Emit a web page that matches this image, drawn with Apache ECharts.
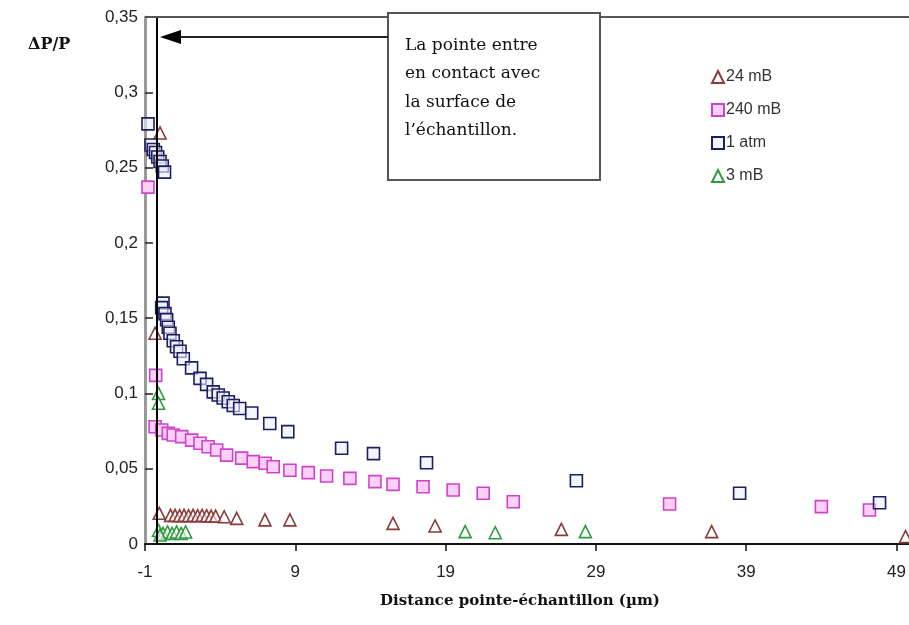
<!DOCTYPE html>
<html>
<head>
<meta charset="utf-8">
<script src="https://cdn.jsdelivr.net/npm/echarts@6/dist/echarts.min.js"></script>
<style>html,body{margin:0;padding:0;background:#fff;}#c{width:909px;height:625px;}</style>
</head>
<body>
<div id="c"></div>
<script>
// ---- data ----
const xTicks = [-1, 9, 19, 29, 39, 49];
const contactX = -0.2;

const mb24 = [
  [0.0,0.273],[-0.33,0.140],[-0.05,0.0204],
  [0.7,0.019],[1.0,0.019],[1.3,0.0188],[1.6,0.019],[1.9,0.0188],[2.2,0.019],
  [2.5,0.0188],[2.8,0.019],[3.1,0.0188],[3.4,0.0185],[3.7,0.0185],[4.27,0.0181],
  [5.1,0.017],[6.98,0.016],[8.64,0.016],[15.5,0.0137],[18.3,0.012],
  [26.7,0.0097],[36.7,0.0082],[49.6,0.0049]
];
const mb240 = [
  [-0.8,0.237],[-0.29,0.112],[-0.33,0.0779],[0.11,0.0757],[0.55,0.0735],
  [0.88,0.0724],[1.44,0.0713],[2.1,0.069],[2.66,0.0669],[3.2,0.0646],
  [3.77,0.0624],[4.43,0.059],[5.43,0.057],[6.2,0.0547],[7.0,0.0536],
  [7.53,0.0513],[8.64,0.049],[9.86,0.0474],[11.08,0.0452],[12.63,0.0436],
  [14.3,0.0414],[15.5,0.0396],[17.5,0.038],[19.5,0.0359],[21.5,0.0337],
  [23.5,0.0281],[33.9,0.0266],[44.0,0.0248],[47.2,0.0226]
];
const atm1 = [
  [-0.8,0.279],[-0.6,0.265],[-0.45,0.262],[-0.3,0.26],[-0.15,0.257],
  [0.0,0.254],[0.15,0.251],[0.3,0.247],
  [0.2,0.160],[0.11,0.157],[0.33,0.153],[0.44,0.149],[0.55,0.144],[0.66,0.140],
  [0.88,0.135],[1.1,0.131],[1.33,0.128],[1.55,0.123],[2.1,0.117],[2.66,0.110],
  [3.1,0.106],[3.54,0.101],[3.87,0.099],[4.2,0.097],[4.54,0.0945],[4.87,0.092],
  [5.3,0.090],[6.1,0.087],[7.3,0.080],[8.5,0.0746],[12.08,0.0636],[14.2,0.060],
  [17.73,0.054],[27.7,0.042],[38.56,0.0337],[47.87,0.0274]
];
const mb3 = [
  [-0.1,0.100],[-0.1,0.0935],
  [-0.1,0.009],[0.2,0.007],[0.5,0.008],[0.8,0.007],[1.1,0.008],[1.4,0.007],
  [1.7,0.008],[0.0,0.006],
  [20.3,0.0082],[22.3,0.0075],[28.3,0.0082]
];
const seriesNames = ['24 mB', '240 mB', '1 atm', '3 mB'];
const annotationLines = ['La pointe entre', 'en contact avec', 'la surface de', 'l\u2019échantillon.'];

const chart = echarts.init(document.getElementById('c'), null, {renderer: 'canvas'});
const sans = '"Liberation Sans", Arial, sans-serif';
const serif = '"DejaVu Serif", "Liberation Serif", serif';

function ser(name, data, symbol, size, fill, border) {
  return {
    name, type: 'scatter', data, symbol, symbolSize: size,
    itemStyle: {color: fill, borderColor: border, borderWidth: 1.6, opacity: 1},
    emphasis: {disabled: true}
  };
}

const series = [
  ser(seriesNames[0], mb24, 'triangle', 12, 'rgba(255,255,255,0.6)', '#8a3b3b'),
  ser(seriesNames[1], mb240, 'rect', 12, '#ffd0f5', '#cc44cc'),
  ser(seriesNames[2], atm1, 'rect', 12, 'rgba(235,238,255,0.6)', '#1f1f5e'),
  ser(seriesNames[3], mb3, 'triangle', 12, 'rgba(255,255,255,0.6)', '#2f9a3f')
];
series[0].markLine = {
  silent: true, symbol: ['none', 'none'], label: {show: false},
  lineStyle: {color: '#000', width: 2, type: 'solid'},
  data: [{xAxis: contactX}]
};

chart.setOption({
  animation: false,
  backgroundColor: '#fff',
  grid: {left: 145, right: 0, top: 17, bottom: 81, show: false},
  legend: {
    data: seriesNames, orient: 'vertical', left: 706, top: 64,
    itemWidth: 12, itemHeight: 12, itemGap: 17,
    textStyle: {fontFamily: sans, fontSize: 16, color: '#333', padding: [0, 0, 0, -3]},
    selectedMode: false
  },
  xAxis: {
    type: 'value', min: -1, max: 49.8,
    axisLine: {show: true, onZero: false, lineStyle: {color: '#111', width: 2}},
    axisTick: {show: true, inside: false, length: 7, lineStyle: {color: '#111', width: 1.5}, customValues: xTicks},
    axisLabel: {customValues: xTicks, margin: 20, fontFamily: sans, fontSize: 17, color: '#222'},
    splitLine: {show: false}
  },
  yAxis: {
    type: 'value', min: 0, max: 0.35, interval: 0.05,
    axisLine: {show: true, onZero: false, lineStyle: {color: '#999', width: 3}},
    axisTick: {show: true, inside: true, length: 8, lineStyle: {color: '#222', width: 1.5}},
    axisLabel: {margin: 7, fontFamily: sans, fontSize: 17, color: '#222',
      formatter: v => String(+(+v).toFixed(2)).replace('.', ',')},
    splitLine: {show: false}
  },
  series,
  graphic: [
    {type: 'line', shape: {x1: 145, y1: 17, x2: 909, y2: 17}, style: {stroke: '#555', lineWidth: 2}, z: 50},
    {type: 'text', x: 28, y: 37, style: {text: '\u0394P/P', font: 'bold 16px ' + serif, fill: '#111'}},
    {type: 'text', x: 520, y: 594, style: {text: 'Distance pointe-échantillon (\u00b5m)', font: 'bold 15px ' + serif, fill: '#111', align: 'center'}},
    {type: 'rect', shape: {x: 388, y: 13, width: 212, height: 167}, style: {fill: '#fff', stroke: '#555', lineWidth: 2}, z: 100},
    {type: 'text', x: 405, y: 31, z: 101, style: {text: annotationLines.join('\n'), font: '17px ' + serif, lineHeight: 28.5, fill: '#111'}},
    {type: 'line', shape: {x1: 388, y1: 37, x2: 176, y2: 37}, style: {stroke: '#222', lineWidth: 2}, z: 100},
    {type: 'polygon', shape: {points: [[160, 37], [181, 30], [181, 44]]}, style: {fill: '#000'}, z: 100}
  ]
});
</script>
</body>
</html>
